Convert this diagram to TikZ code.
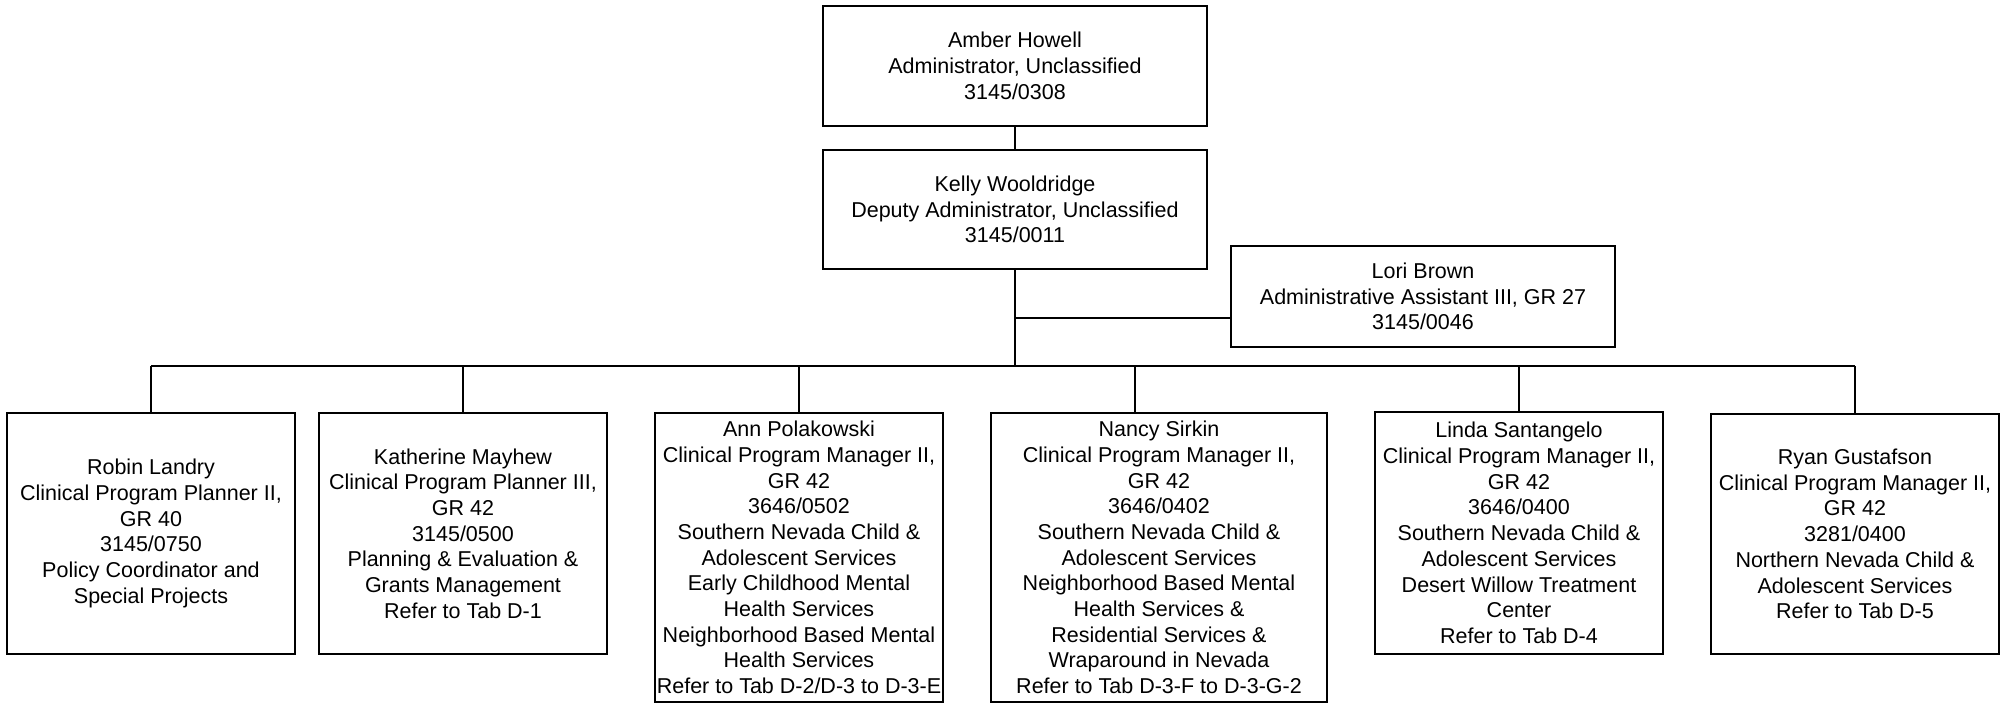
\documentclass[tikz,border=0pt]{standalone}
\usepackage{fontspec}
\setmainfont{Liberation Sans}
\usepackage{tikz}
\usetikzlibrary{positioning}
\usetikzlibrary{calc}

\begin{document}
\begin{tikzpicture}[x=0.5pt,y=-0.5pt,line width=0.8pt,
  staff/.style={draw,rectangle,align=center,inner xsep=1pt,inner ysep=1pt,
    font=\fontsize{10.75pt}{12.85pt}\selectfont},
  wide/.style={minimum width=192pt},
  narrow/.style={minimum width=144pt}]
\useasboundingbox (0,0) rectangle (2010,704);

\node[staff,wide,minimum height=60pt] (amber) at (1015,66) {Amber Howell\\Administrator, Unclassified\\3145/0308};
\node[staff,wide,minimum height=59.5pt] (kelly) at (1015,209.5) {Kelly Wooldridge\\Deputy Administrator, Unclassified\\3145/0011};
\node[staff,wide,minimum height=50.5pt] (lori) at (1423,296.5) {Lori Brown\\Administrative Assistant III, GR 27\\3145/0046};

\node[staff,narrow,minimum height=120.5pt] (robin) at (151,533.5) {Robin Landry\\Clinical Program Planner II,\\GR 40\\3145/0750\\Policy Coordinator and\\Special Projects};
\node[staff,narrow,minimum height=120.5pt] (katherine) at (463,533.5) {Katherine Mayhew\\Clinical Program Planner III,\\GR 42\\3145/0500\\Planning \& Evaluation \&\\Grants Management\\Refer to Tab D-1};
\node[staff,narrow,minimum height=144.5pt] (ann) at (799,557.5) {Ann Polakowski\\Clinical Program Manager II,\\GR 42\\3646/0502\\Southern Nevada Child \&\\Adolescent Services\\Early Childhood Mental\\Health Services\\Neighborhood Based Mental\\Health Services\\Refer to Tab D-2/D-3 to D-3-E};
\node[staff,minimum width=168pt,minimum height=144.5pt] (nancy) at (1159,557.5) {Nancy Sirkin\\Clinical Program Manager II,\\GR 42\\3646/0402\\Southern Nevada Child \&\\Adolescent Services\\Neighborhood Based Mental\\Health Services \&\\Residential Services \&\\Wraparound in Nevada\\Refer to Tab D-3-F to D-3-G-2};
\node[staff,narrow,minimum height=121pt] (linda) at (1519,533) {Linda Santangelo\\Clinical Program Manager II,\\GR 42\\3646/0400\\Southern Nevada Child \&\\Adolescent Services\\Desert Willow Treatment\\Center\\Refer to Tab D-4};
\node[staff,narrow,minimum height=120pt] (ryan) at (1855,534) {Ryan Gustafson\\Clinical Program Manager II,\\GR 42\\3281/0400\\Northern Nevada Child \&\\Adolescent Services\\Refer to Tab D-5};

\coordinate (bus) at (1015,366);
\coordinate (lorijoin) at (1015,318);
\coordinate (nancytop) at ([xshift=-12pt]nancy.north);

\draw (amber) -- (kelly);
\draw (kelly.south) -- (bus);
\draw (lorijoin) -- (lorijoin -| lori.west);
\draw (robin.north |- bus) -- (ryan.north |- bus);
\foreach \who in {robin,katherine,ann,linda,ryan}
  \draw (\who.north) -- (\who.north |- bus);
\draw (nancytop) -- (nancytop |- bus);
\end{tikzpicture}
\end{document}
